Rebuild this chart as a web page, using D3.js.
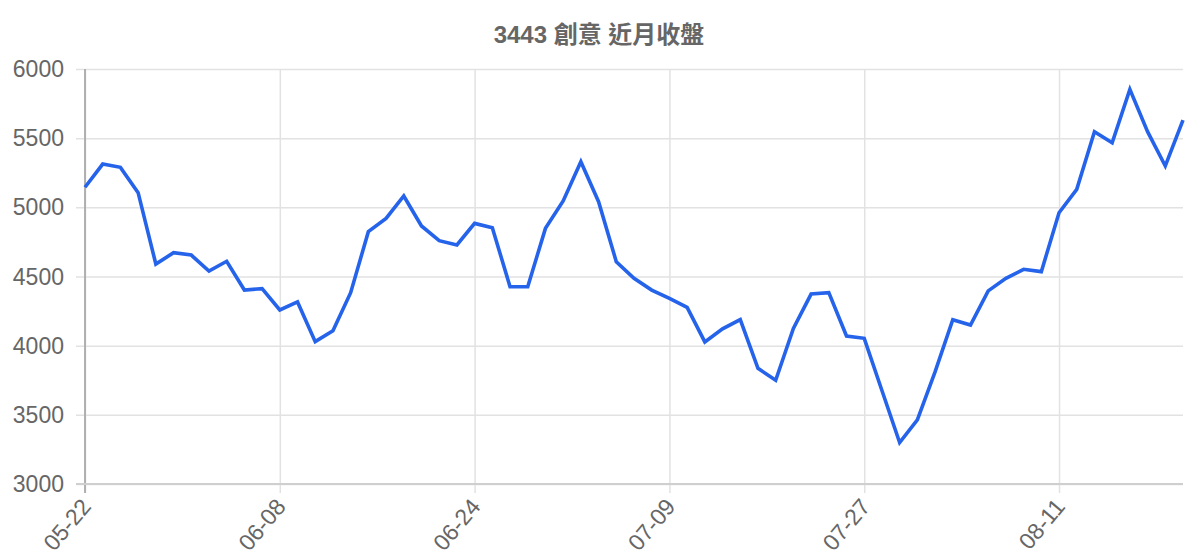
<!DOCTYPE html>
<meta charset="utf-8">
<style>
body { margin: 0; background: #fff; }
svg { display: block; font-family: "Liberation Sans", Arial, Helvetica, sans-serif; }
.grid line { stroke: #e2e2e2; stroke-width: 1.5; }
.grid path { stroke: none; }
.tick-label { fill: #666; font-size: 23px; }
.title { fill: #666; font-size: 24px; font-weight: bold; font-family: "Liberation Sans", "Noto Sans CJK TC", sans-serif; }
.series { fill: none; stroke: #2563eb; stroke-width: 3.6; stroke-linejoin: miter; }
</style>
<svg width="1200" height="560"></svg>
<script src="https://d3js.org/d3.v7.min.js"></script>
<script>

var title = "3443 創意 近月收盤";

var dates = [
  "05-22", "05-23", "05-26", "05-27", "05-28", "05-29", "05-30", "06-02", "06-03", "06-04", "06-05",
  "06-08", "06-09", "06-10", "06-11", "06-12", "06-15", "06-16", "06-17", "06-18", "06-19", "06-22",
  "06-24", "06-25", "06-26", "06-29", "06-30", "07-01", "07-02", "07-03", "07-06", "07-07", "07-08",
  "07-09", "07-10", "07-13", "07-14", "07-15", "07-16", "07-17", "07-20", "07-21", "07-22", "07-24",
  "07-27", "07-28", "07-29", "07-30", "07-31", "08-03", "08-04", "08-05", "08-06", "08-07", "08-10",
  "08-11", "08-12", "08-13", "08-14", "08-17", "08-18", "08-19", "08-20"
];

var closes = [
  5145, 5313, 5289, 5106, 4590, 4672, 4655, 4540, 4610, 4402, 4412,
  4258, 4316, 4029, 4108, 4383, 4824, 4920, 5082, 4865, 4759, 4728,
  4884, 4853, 4426, 4426, 4848, 5046, 5330, 5041, 4607, 4487, 4402,
  4342, 4277, 4027, 4122, 4188, 3836, 3750, 4125, 4373, 4383, 4070,
  4053, 3676, 3299, 3463, 3810, 4188, 4149, 4396, 4487, 4552, 4535,
  4961, 5130, 5547, 5467, 5853, 5547, 5299, 5631
];

var yTicks = [3000, 3500, 4000, 4500, 5000, 5500, 6000];

var svg = d3.select("svg"),
    plotLeft = 85, plotRight = 1183, plotTop = 69, plotBottom = 484;

var x = d3.scalePoint().domain(dates).range([plotLeft, plotRight]);
var y = d3.scaleLinear().domain([3000, 6000]).range([plotBottom, plotTop]);

var xShown = dates.filter(function(d, i) { return i % 11 === 0; });

// horizontal grid
svg.append("g")
    .attr("class", "grid")
    .attr("transform", "translate(" + plotRight + ",0)")
    .call(d3.axisLeft(y).tickValues(yTicks).tickSize(plotRight - plotLeft + 9).tickFormat(""));

// vertical grid
svg.append("g")
    .attr("class", "grid")
    .attr("transform", "translate(0," + plotTop + ")")
    .call(d3.axisBottom(x).tickValues(xShown).tickSize(plotBottom - plotTop + 9).tickFormat(""));

// axis borders
svg.append("line")
    .attr("x1", plotLeft).attr("x2", plotLeft)
    .attr("y1", plotTop).attr("y2", plotBottom + 9)
    .attr("stroke", "#aaa").attr("stroke-width", 1.8);
svg.append("line")
    .attr("x1", plotLeft - 9).attr("x2", plotRight)
    .attr("y1", plotBottom).attr("y2", plotBottom)
    .attr("stroke", "#cfcfcf").attr("stroke-width", 1.8);

// y labels
svg.append("g").selectAll("text")
  .data(yTicks)
  .enter().append("text")
    .attr("class", "tick-label")
    .attr("x", 64)
    .attr("y", function(d) { return y(d); })
    .attr("dy", "0.35em")
    .attr("text-anchor", "end")
    .text(function(d) { return d; });

// x labels
svg.append("g").selectAll("text")
  .data(xShown)
  .enter().append("text")
    .attr("class", "tick-label")
    .attr("text-anchor", "end")
    .attr("transform", function(d) { return "translate(" + (x(d) + 1) + "," + 502 + ") rotate(-50)"; })
    .attr("dy", "0.35em")
    .text(function(d) { return d; });

// title
svg.append("text")
    .attr("class", "title")
    .attr("x", 599)
    .attr("y", 35)
    .attr("dy", "0.35em")
    .attr("text-anchor", "middle")
    .text(title);

var line = d3.line()
    .x(function(d, i) { return x(dates[i]); })
    .y(function(d) { return y(d); });

svg.append("path")
    .datum(closes)
    .attr("class", "series")
    .attr("d", line);

</script>
